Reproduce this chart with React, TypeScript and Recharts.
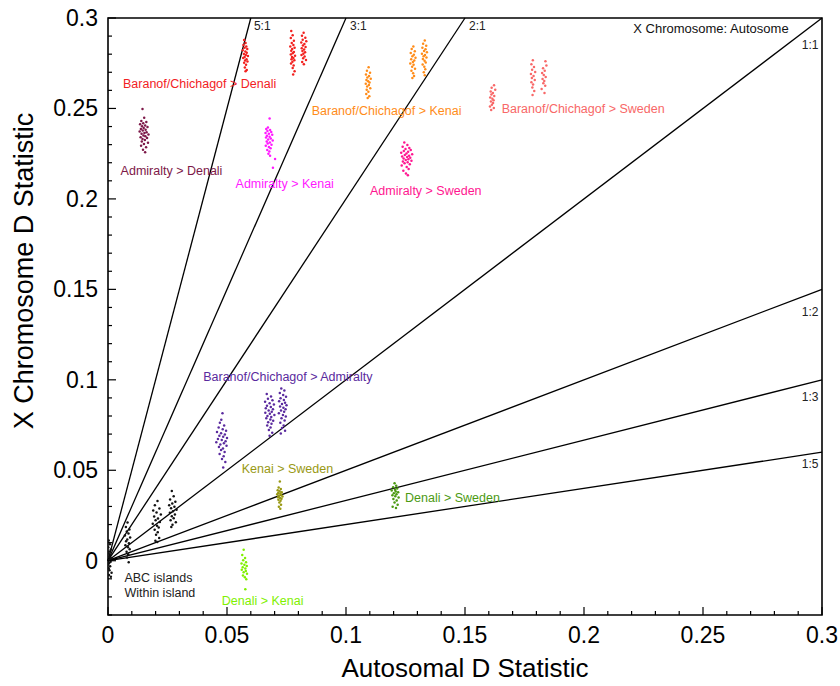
import React from "react"
import { ScatterChart, Scatter, XAxis, YAxis, ReferenceLine, ReferenceArea, ReferenceDot } from "recharts"

type Pt = [number, number]

// axis ticks (major every 0.05, minor every 0.01)
const xTicks = [0, 0.01, 0.02, 0.03, 0.04, 0.05, 0.06, 0.07, 0.08, 0.09, 0.1, 0.11, 0.12, 0.13, 0.14, 0.15, 0.16, 0.17, 0.18, 0.19, 0.2, 0.21, 0.22, 0.23, 0.24, 0.25, 0.26, 0.27, 0.28, 0.29, 0.3]
const yTicks = [-0.03, -0.02, -0.01, 0, 0.01, 0.02, 0.03, 0.04, 0.05, 0.06, 0.07, 0.08, 0.09, 0.1, 0.11, 0.12, 0.13, 0.14, 0.15, 0.16, 0.17, 0.18, 0.19, 0.2, 0.21, 0.22, 0.23, 0.24, 0.25, 0.26, 0.27, 0.28, 0.29, 0.3]

// X : autosome ratio lines
const ratioNames = ["5:1", "3:1", "2:1", "1:1", "1:2", "1:3", "1:5"]
const ratioValues = [5, 3, 2, 1, 0.5, 0.3333333, 0.2]

// [autosomal D, X chromosome D]
const baranofDenali: Pt[] = [
  [0.0572, 0.2878], [0.0578, 0.2862], [0.0569, 0.2851], [0.0581, 0.2843], [0.0574, 0.2836], [0.0585, 0.2829], [0.0566, 0.2822], [0.0577, 0.2815], [0.0583, 0.2808], [0.0571, 0.2801], [0.0579, 0.2796], [0.0588, 0.279], [0.0574, 0.2784], [0.0568, 0.2779], [0.0582, 0.2772], [0.0576, 0.2765], [0.0586, 0.2759], [0.0572, 0.2752], [0.058, 0.2741], [0.0575, 0.2726], [0.0583, 0.2712], [0.0578, 0.2705],
  [0.077, 0.2928], [0.0776, 0.2905], [0.0768, 0.2889], [0.0781, 0.2874], [0.0772, 0.2862], [0.0779, 0.2851], [0.0766, 0.2843], [0.0784, 0.2836], [0.0774, 0.2828], [0.077, 0.2819], [0.0781, 0.2812], [0.0776, 0.2805], [0.0768, 0.2798], [0.0786, 0.2791], [0.0773, 0.2785], [0.0779, 0.2779], [0.0771, 0.2772], [0.0783, 0.2766], [0.0775, 0.2758], [0.0769, 0.2749], [0.078, 0.2738], [0.0776, 0.2724], [0.0784, 0.2705], [0.0778, 0.2688],
  [0.0822, 0.2918], [0.0815, 0.2902], [0.0829, 0.2891], [0.0818, 0.288], [0.0833, 0.2871], [0.0812, 0.2864], [0.0825, 0.2856], [0.0819, 0.2848], [0.083, 0.284], [0.0814, 0.2833], [0.0824, 0.2826], [0.0817, 0.2818], [0.0828, 0.2811], [0.0821, 0.2803], [0.0813, 0.2795], [0.0826, 0.2787], [0.082, 0.2778], [0.0832, 0.2768], [0.0816, 0.2757], [0.0823, 0.2745],
]
const admiraltyDenali: Pt[] = [
  [0.0145, 0.2497], [0.0152, 0.2448], [0.014, 0.2431], [0.0161, 0.2425], [0.0148, 0.2418], [0.0135, 0.2412], [0.0156, 0.2406], [0.0143, 0.2401], [0.0166, 0.2397], [0.015, 0.2392], [0.0138, 0.2387], [0.0158, 0.2382], [0.0146, 0.2378], [0.0133, 0.2373], [0.0162, 0.2369], [0.0153, 0.2364], [0.0141, 0.236], [0.017, 0.2356], [0.0149, 0.2351], [0.0157, 0.2346], [0.0137, 0.2341], [0.0164, 0.2336], [0.0145, 0.2331], [0.0155, 0.2325], [0.0142, 0.2318], [0.0168, 0.2311], [0.0151, 0.2303], [0.0139, 0.2294], [0.016, 0.2285], [0.0147, 0.2272], [0.0156, 0.2258],
]
const admiraltyKenai: Pt[] = [
  [0.0679, 0.2445], [0.0672, 0.2395], [0.0665, 0.2387], [0.0681, 0.2381], [0.067, 0.2376], [0.0686, 0.237], [0.0662, 0.2365], [0.0676, 0.236], [0.069, 0.2354], [0.0668, 0.2349], [0.0679, 0.2344], [0.0664, 0.2339], [0.0684, 0.2334], [0.0673, 0.2329], [0.0692, 0.2323], [0.0667, 0.2318], [0.068, 0.2312], [0.0671, 0.2306], [0.0687, 0.23], [0.0663, 0.2294], [0.0676, 0.2287], [0.0683, 0.228], [0.0669, 0.2271], [0.0678, 0.2262], [0.0674, 0.225], [0.0681, 0.2238], [0.0702, 0.2221], [0.0693, 0.2172],
]
const baranofKenai: Pt[] = [
  [0.1095, 0.2728], [0.1088, 0.2708], [0.1101, 0.2697], [0.1084, 0.2688], [0.1097, 0.2679], [0.109, 0.2671], [0.1104, 0.2664], [0.1086, 0.2657], [0.1093, 0.265], [0.1099, 0.2643], [0.1083, 0.2636], [0.1096, 0.2629], [0.1089, 0.2621], [0.1102, 0.2612], [0.1087, 0.2603], [0.1094, 0.2592], [0.1085, 0.258], [0.1098, 0.2568], [0.1091, 0.2558],
  [0.1283, 0.2842], [0.1276, 0.2828], [0.1289, 0.2816], [0.1272, 0.2806], [0.1285, 0.2797], [0.1279, 0.2788], [0.1292, 0.278], [0.1274, 0.2772], [0.1287, 0.2765], [0.1281, 0.2757], [0.127, 0.2749], [0.1284, 0.2741], [0.1278, 0.2731], [0.129, 0.272], [0.1275, 0.2708], [0.1282, 0.2694], [0.1286, 0.268], [0.1279, 0.2668],
  [0.1331, 0.2875], [0.1324, 0.2858], [0.1337, 0.2846], [0.1321, 0.2836], [0.1334, 0.2827], [0.1328, 0.2818], [0.134, 0.281], [0.1319, 0.2803], [0.1332, 0.2796], [0.1326, 0.2789], [0.1338, 0.2781], [0.1323, 0.2773], [0.133, 0.2764], [0.1335, 0.2754], [0.1322, 0.2743], [0.1329, 0.2731], [0.1333, 0.2717], [0.1327, 0.27], [0.1331, 0.2684],
]
const admiraltySweden: Pt[] = [
  [0.1245, 0.2312], [0.1258, 0.2298], [0.1238, 0.2289], [0.1266, 0.2282], [0.125, 0.2276], [0.1272, 0.227], [0.1243, 0.2265], [0.1261, 0.226], [0.1232, 0.2255], [0.1254, 0.2251], [0.1278, 0.2247], [0.1247, 0.2243], [0.1265, 0.2239], [0.1236, 0.2235], [0.1257, 0.2231], [0.127, 0.2227], [0.1242, 0.2223], [0.1262, 0.2219], [0.1251, 0.2215], [0.1275, 0.2211], [0.1239, 0.2207], [0.1259, 0.2202], [0.1246, 0.2197], [0.1268, 0.2191], [0.1234, 0.2184], [0.1255, 0.2176], [0.1263, 0.2166], [0.1241, 0.2155], [0.1252, 0.2141], [0.126, 0.2131],
]
const baranofSweden: Pt[] = [
  [0.1622, 0.2628], [0.1612, 0.2615], [0.1627, 0.2604], [0.1608, 0.2594], [0.1617, 0.2585], [0.1611, 0.2577], [0.1623, 0.2569], [0.1606, 0.2561], [0.1615, 0.2554], [0.162, 0.2546], [0.1609, 0.2538], [0.1618, 0.253], [0.1613, 0.2521], [0.1605, 0.2511], [0.1621, 0.2502], [0.161, 0.2492],
  [0.1785, 0.2766], [0.1838, 0.2761], [0.1779, 0.2744], [0.1842, 0.2738], [0.179, 0.2729], [0.1828, 0.2722], [0.1782, 0.2714], [0.1835, 0.2708], [0.1795, 0.2701], [0.1824, 0.2696], [0.1777, 0.269], [0.1831, 0.2685], [0.1788, 0.2679], [0.1839, 0.2674], [0.1781, 0.2668], [0.1826, 0.2663], [0.1793, 0.2657], [0.1833, 0.2652], [0.1779, 0.2645], [0.1829, 0.264], [0.1786, 0.2632], [0.1837, 0.2625], [0.1783, 0.2616], [0.1822, 0.2607], [0.1791, 0.2596], [0.1834, 0.2586], [0.1784, 0.2575],
]
const baranofAdmiralty: Pt[] = [
  [0.0481, 0.0815], [0.0476, 0.0779], [0.047, 0.0762], [0.0488, 0.0748], [0.0465, 0.0736], [0.0482, 0.0727], [0.0496, 0.0719], [0.0458, 0.0711], [0.0475, 0.0704], [0.0491, 0.0698], [0.0468, 0.0691], [0.0484, 0.0685], [0.05, 0.0679], [0.0462, 0.0673], [0.0478, 0.0667], [0.0494, 0.0661], [0.0455, 0.0655], [0.0487, 0.0649], [0.0472, 0.0643], [0.0498, 0.0636], [0.0466, 0.0629], [0.0483, 0.0621], [0.0475, 0.0612], [0.049, 0.0601], [0.0469, 0.059], [0.0486, 0.0577], [0.0479, 0.0563], [0.0493, 0.0546], [0.0484, 0.0515],
  [0.0667, 0.0922], [0.0685, 0.0908], [0.0672, 0.0896], [0.0691, 0.0887], [0.066, 0.0879], [0.0679, 0.0871], [0.0697, 0.0864], [0.0668, 0.0857], [0.0684, 0.085], [0.0663, 0.0843], [0.0693, 0.0837], [0.0675, 0.083], [0.0688, 0.0824], [0.0661, 0.0818], [0.068, 0.0812], [0.0699, 0.0806], [0.067, 0.08], [0.0686, 0.0794], [0.0665, 0.0788], [0.0682, 0.0781], [0.0694, 0.0774], [0.0673, 0.0766], [0.0687, 0.0757], [0.0669, 0.0747], [0.0683, 0.0736], [0.0676, 0.0722], [0.069, 0.0708], [0.0679, 0.0691],
  [0.0728, 0.0952], [0.0741, 0.0941], [0.0722, 0.0927], [0.0736, 0.0916], [0.0748, 0.0907], [0.0725, 0.0898], [0.0739, 0.0889], [0.0719, 0.0881], [0.0744, 0.0873], [0.0731, 0.0866], [0.075, 0.0859], [0.0723, 0.0852], [0.0737, 0.0845], [0.0746, 0.0838], [0.0727, 0.0831], [0.074, 0.0823], [0.0718, 0.0815], [0.0735, 0.0806], [0.0747, 0.0797], [0.0729, 0.0787], [0.0742, 0.0775], [0.0724, 0.0762], [0.0738, 0.0748], [0.0731, 0.0733], [0.0744, 0.0718], [0.0726, 0.0703],
]
const kenaiSweden: Pt[] = [
  [0.0722, 0.0438], [0.0717, 0.0405], [0.0726, 0.0396], [0.0713, 0.0389], [0.0721, 0.0384], [0.073, 0.0379], [0.0715, 0.0375], [0.0724, 0.0371], [0.0711, 0.0367], [0.0728, 0.0363], [0.0719, 0.0359], [0.0733, 0.0355], [0.0714, 0.0351], [0.0723, 0.0347], [0.0729, 0.0342], [0.0716, 0.0337], [0.0725, 0.0331], [0.072, 0.0322], [0.0727, 0.031], [0.0718, 0.0298], [0.0724, 0.0288],
]
const denaliSweden: Pt[] = [
  [0.1204, 0.0428], [0.1211, 0.0415], [0.1198, 0.0406], [0.1215, 0.0399], [0.1206, 0.0393], [0.1192, 0.0388], [0.1209, 0.0383], [0.1219, 0.0378], [0.1201, 0.0373], [0.1212, 0.0368], [0.1195, 0.0362], [0.1207, 0.0356], [0.1221, 0.0349], [0.1199, 0.0341], [0.1213, 0.0333], [0.1204, 0.0322], [0.1217, 0.031], [0.1196, 0.0299], [0.121, 0.0291],
]
const denaliKenai: Pt[] = [
  [0.057, 0.006], [0.0564, 0.0032], [0.0576, 0.0015], [0.0568, 0.0003], [0.058, -0.0008], [0.0561, -0.0015], [0.0573, -0.0022], [0.0583, -0.0029], [0.0566, -0.0036], [0.0577, -0.0043], [0.0562, -0.005], [0.0579, -0.0057], [0.057, -0.0064], [0.0584, -0.0072], [0.0567, -0.0081], [0.0575, -0.0091], [0.0581, -0.0102], [0.0577, -0.0158],
]
const abcWithin: Pt[] = [
  [0.0003, 0.0112], [0.0008, 0.0091], [0.0001, 0.0075], [0.0012, 0.0062], [0.0005, 0.0051], [0.0002, 0.004], [0.001, 0.0031], [0.0004, 0.0022], [0.0014, 0.0014], [0.0007, 0.0007], [0.0002, 0.0001], [0.0011, -0.0006], [0.0005, -0.0013], [0.0001, -0.0021], [0.0009, -0.003], [0.0003, -0.0041], [0.0006, -0.0053], [0.0015, -0.0067], [0.0004, -0.0079], [0.0012, -0.0088],
  [0.0082, 0.0211], [0.0075, 0.0186], [0.009, 0.0172], [0.0079, 0.0161], [0.0086, 0.015], [0.0071, 0.0139], [0.0093, 0.0128], [0.0081, 0.0118], [0.0076, 0.0107], [0.0088, 0.0096], [0.0073, 0.0086], [0.0084, 0.0075], [0.0091, 0.0063], [0.0078, 0.005], [0.0085, 0.0036], [0.008, 0.0018], [0.0087, -0.0008],
  [0.0208, 0.033], [0.0197, 0.0306], [0.0216, 0.0289], [0.019, 0.0277], [0.0204, 0.0266], [0.0222, 0.0255], [0.0194, 0.0244], [0.021, 0.0234], [0.02, 0.0224], [0.0218, 0.0214], [0.0188, 0.0204], [0.0206, 0.0194], [0.0213, 0.0183], [0.0196, 0.0171], [0.0209, 0.0158], [0.0202, 0.0143], [0.0215, 0.0126], [0.0199, 0.0111], [0.0207, 0.0104],
  [0.0268, 0.0385], [0.0276, 0.0356], [0.0261, 0.0338], [0.0283, 0.0326], [0.027, 0.0316], [0.0257, 0.0307], [0.0279, 0.0298], [0.0265, 0.029], [0.0288, 0.0282], [0.0273, 0.0274], [0.026, 0.0265], [0.0281, 0.0256], [0.0268, 0.0246], [0.0276, 0.0235], [0.0263, 0.0224], [0.0285, 0.0212], [0.0271, 0.0199], [0.0266, 0.0187],
]

const groups = [
  { name: "Baranof/Chichagof > Denali", points: baranofDenali, color: "#f2211f" },
  { name: "Admiralty > Denali", points: admiraltyDenali, color: "#7d1848" },
  { name: "Admiralty > Kenai", points: admiraltyKenai, color: "#ff1aff" },
  { name: "Baranof/Chichagof > Kenai", points: baranofKenai, color: "#ff8c19" },
  { name: "Admiralty > Sweden", points: admiraltySweden, color: "#ff1690" },
  { name: "Baranof/Chichagof > Sweden", points: baranofSweden, color: "#f86868" },
  { name: "Baranof/Chichagof > Admiralty", points: baranofAdmiralty, color: "#5a2a9e" },
  { name: "Kenai > Sweden", points: kenaiSweden, color: "#999914" },
  { name: "Denali > Sweden", points: denaliSweden, color: "#4c9a12" },
  { name: "Denali > Kenai", points: denaliKenai, color: "#80f000" },
  { name: "ABC islands", points: abcWithin, color: "#111111" },
]

// text annotations, anchored at their left edge / vertical middle (data units)
const notes = [
  { text: "Baranof/Chichagof > Denali", x: 0.0063, y: 0.2633, color: "#f2211f", size: 12.5 },
  { text: "Admiralty > Denali", x: 0.0053, y: 0.2152, color: "#7d1848", size: 12.5 },
  { text: "Admiralty > Kenai", x: 0.0536, y: 0.2082, color: "#ff1aff", size: 12.5 },
  { text: "Baranof/Chichagof > Kenai", x: 0.0856, y: 0.2485, color: "#ff8c19", size: 12.5 },
  { text: "Admiralty > Sweden", x: 0.1101, y: 0.2046, color: "#ff1690", size: 12.5 },
  { text: "Baranof/Chichagof > Sweden", x: 0.1654, y: 0.2496, color: "#f86868", size: 12.5 },
  { text: "Baranof/Chichagof > Admiralty", x: 0.04, y: 0.1018, color: "#5a2a9e", size: 12.5 },
  { text: "Kenai > Sweden", x: 0.0562, y: 0.0509, color: "#999914", size: 12.5 },
  { text: "Denali > Sweden", x: 0.1248, y: 0.0348, color: "#4c9a12", size: 12.5 },
  { text: "Denali > Kenai", x: 0.0478, y: -0.0222, color: "#80f000", size: 12.5 },
  { text: "ABC islands", x: 0.0069, y: -0.0093, color: "#222", size: 12.5 },
  { text: "Within island", x: 0.0069, y: -0.018, color: "#222", size: 12.5 },
  { text: "5:1", x: 0.0613, y: 0.2956, color: "#222", size: 12 },
  { text: "3:1", x: 0.1017, y: 0.2956, color: "#222", size: 12 },
  { text: "2:1", x: 0.1517, y: 0.2956, color: "#222", size: 12 },
  { text: "X Chromosome: Autosome", x: 0.2207, y: 0.2941, color: "#111", size: 13 },
  { text: "1:1", x: 0.2915, y: 0.2852, color: "#222", size: 12 },
  { text: "1:2", x: 0.2915, y: 0.1376, color: "#222", size: 12 },
  { text: "1:3", x: 0.2915, y: 0.0907, color: "#222", size: 12 },
  { text: "1:5", x: 0.2915, y: 0.0532, color: "#222", size: 12 },
]

const FONT = "'Liberation Sans', Arial, Helvetica, sans-serif"
const isMajor = (v: number) => Math.round(Math.abs(v) * 100) % 5 === 0
const fmt = (v: number) => (v === 0 ? "0" : String(v))

const XTick = ({ x, y, payload }: any) => {
  const major = isMajor(payload.value)
  return (
    <g>
      <line x1={x} x2={x} y1={y} y2={y - (major ? 8 : 4)} stroke="#000" strokeWidth={1.2} />
      {major && (
        <text x={x} y={y + 28} textAnchor="middle" fontSize={23} fontFamily={FONT} fill="#000">
          {fmt(payload.value)}
        </text>
      )}
    </g>
  )
}

const YTick = ({ x, y, payload }: any) => {
  const major = isMajor(payload.value)
  return (
    <g>
      <line x1={x} x2={x + (major ? 8 : 4)} y1={y} y2={y} stroke="#000" strokeWidth={1.2} />
      {major && (
        <text x={x - 10} y={y + 8} textAnchor="end" fontSize={23} fontFamily={FONT} fill="#000">
          {fmt(payload.value)}
        </text>
      )}
    </g>
  )
}

export default function App() {
  return (
    <div style={{ position: "absolute", left: 0, top: 0, background: "#fff" }}>
      <ScatterChart width={840} height={686} margin={{ top: 18, right: 18, bottom: 0, left: 0 }}>
        <XAxis
          type="number"
          dataKey="x"
          domain={[0, 0.3]}
          ticks={xTicks}
          interval={0}
          tick={<XTick />}
          tickLine={false}
          axisLine={false}
          tickSize={0}
          tickMargin={0}
          height={71}
          allowDataOverflow
          label={() => (
            <text x={465} y={677} textAnchor="middle" fontSize={26} fontFamily={FONT} fill="#000">
              Autosomal D Statistic
            </text>
          )}
        />
        <YAxis
          type="number"
          dataKey="y"
          domain={[-0.03, 0.3]}
          ticks={yTicks}
          interval={0}
          tick={<YTick />}
          tickLine={false}
          axisLine={false}
          tickSize={0}
          tickMargin={0}
          width={108}
          allowDataOverflow
          label={() => (
            <text x={33} y={271} transform="rotate(-90 33 271)" textAnchor="middle" fontSize={27} fontFamily={FONT} fill="#000">
              X Chromosome D Statistic
            </text>
          )}
        />
        <ReferenceArea x1={0} x2={0.3} y1={-0.03} y2={0.3} fill="none" stroke="#000" strokeWidth={1.6} />
        {ratioValues.map((r, i) => (
          <ReferenceLine
            key={ratioNames[i]}
            segment={[{ x: 0, y: 0 }, r >= 1 ? { x: 0.3 / r, y: 0.3 } : { x: 0.3, y: 0.3 * r }]}
            stroke="#000"
            strokeWidth={1.3}
          />
        ))}
        {groups.map((g) => (
          <Scatter
            key={g.name}
            name={g.name}
            data={g.points.map(([x, y]) => ({ x, y }))}
            isAnimationActive={false}
            shape={(p: any) => <circle cx={p.cx} cy={p.cy} r={1.25} fill={g.color} />}
          />
        ))}
        {notes.map((n) => (
          <ReferenceDot
            key={n.text}
            x={n.x}
            y={n.y}
            r={0}
            shape={(p: any) => (
              <text x={p.cx} y={p.cy} dominantBaseline="central" fontSize={n.size} fontFamily={FONT} fill={n.color}>
                {n.text}
              </text>
            )}
          />
        ))}
      </ScatterChart>
    </div>
  )
}
